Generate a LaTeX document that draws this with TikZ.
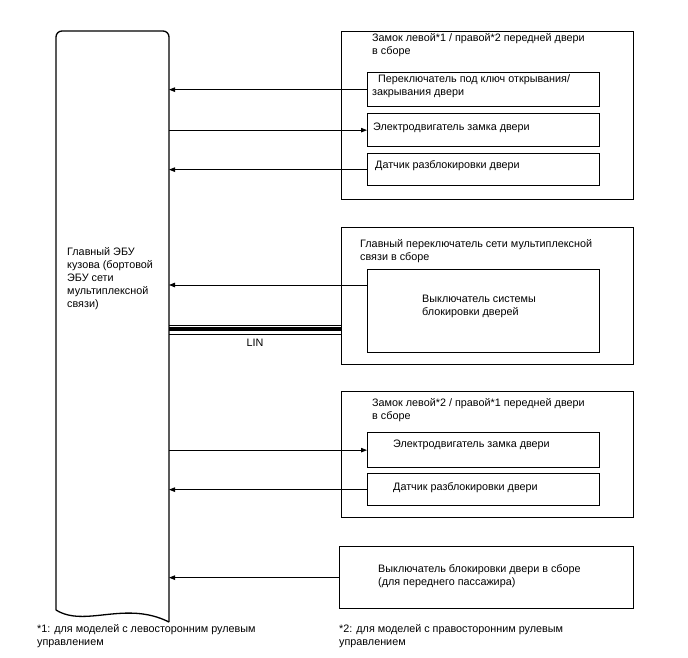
\documentclass[tikz,border=0pt]{standalone}
\usepackage{fontspec}
\setmainfont{Liberation Sans}
\usetikzlibrary{arrows.meta}

\begin{document}
\begin{tikzpicture}[x=1pt, y=-1pt,
        every node/.style={font=\fontsize{10.8}{13}\selectfont, inner sep=0pt},
        unit/.style={draw, line width=1.3pt, anchor=north west, minimum width=292pt},
        part/.style={draw, line width=1.3pt, anchor=north west, minimum width=232pt},
        txt/.style={anchor=west, align=left},
        sig/.style={line width=0.9pt, -{Triangle[length=6pt,width=4.5pt]}}]
        \useasboundingbox (0,0) rectangle (688,658);
        % ECU
        \draw[line width=1.3pt, rounded corners=6pt] (56,610) -- (56,31) -- (169,31) -- (169,622);
        \draw[line width=1.3pt] (169,622) .. controls (125,600) and (85,628) .. (56,610);
        \coordinate (ecu) at (169,0);
        \node[txt] (ecutxt) at (67,279) {Главный ЭБУ\\кузова (бортовой\\ЭБУ сети\\мультиплексной\\связи)};
        % door lock 1
        \node[unit, minimum height=168pt] (lk1) at (341,31) {};
        \node[txt] (lk1t) at (372,45) {Замок левой*1 / правой*2 передней двери\\в сборе};
        \node[part, minimum height=34pt] (kcs) at (367,72) {};
        \node[txt] (kcst) at (372,86) {\hspace*{6pt}Переключатель под ключ открывания/\\закрывания двери};
        \node[part, minimum height=33pt] (mot1) at (367,113) {};
        \node[txt] (mot1t) at (373,128) {Электродвигатель замка двери};
        \node[part, minimum height=32pt] (pos1) at (367,153) {};
        \node[txt] (pos1t) at (375,166) {Датчик разблокировки двери};
        % master switch
        \node[unit, minimum height=137pt] (msw) at (341,227) {};
        \node[txt] (mswt) at (360,251) {Главный переключатель сети мультиплексной\\связи в сборе};
        \node[part, minimum height=83pt] (lsw) at (367,269) {};
        \node[txt] (lswt) at (422,306) {Выключатель системы\\блокировки дверей};
        % door lock 2
        \node[unit, minimum height=126pt] (lk2) at (341,391) {};
        \node[txt] (lk2t) at (372,410) {Замок левой*2 / правой*1 передней двери\\в сборе};
        \node[part, minimum height=35pt] (mot2) at (367,432) {};
        \node[txt] (mot2t) at (393,445) {Электродвигатель замка двери};
        \node[part, minimum height=32pt] (pos2) at (367,473) {};
        \node[txt] (pos2t) at (393,488) {Датчик разблокировки двери};
        % passenger switch
        \node[unit, minimum width=294pt, minimum height=62pt] (psw) at (339,546) {};
        \node[txt] (pswt) at (378,576) {Выключатель блокировки двери в сборе\\(для переднего пассажира)};
        % signals
        \draw[sig] (kcs.west) -- (kcs.west -| ecu);
        \draw[sig] (mot1.west -| ecu) -- (mot1.west);
        \draw[sig] (pos1.west) -- (pos1.west -| ecu);
        \draw[sig] ([yshift=-16pt]lsw.north west) -- ([yshift=-16pt]lsw.north west -| ecu);
        \draw[sig] (mot2.west -| ecu) -- (mot2.west);
        \draw[sig] (pos2.west) -- (pos2.west -| ecu);
        \draw[sig] (psw.west) -- (psw.west -| ecu);
        % LIN
        \foreach \y/\w in {325/1pt, 329/3.2pt, 334/1pt}
            \draw[line width=\w] (ecu |- 0,\y) -- (msw.west |- 0,\y);
        \node (lin) at (255,343) {LIN};
        % notes
        \node[txt] (fn1) at (37,636) {*1: для моделей с левосторонним рулевым\\управлением};
        \node[txt] (fn2) at (339,636) {*2: для моделей с правосторонним рулевым\\управлением};
\end{tikzpicture}
\end{document}
